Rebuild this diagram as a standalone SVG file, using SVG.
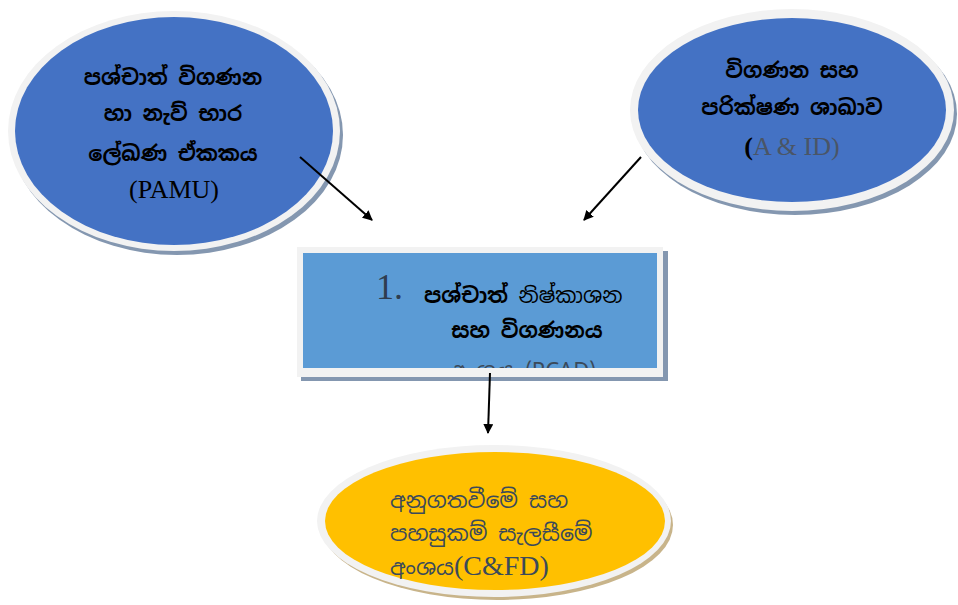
<svg xmlns="http://www.w3.org/2000/svg" width="958" height="605" viewBox="0 0 958 605">
<style>
.si{font-family:"Noto Sans Sinhala","Noto Sans","Liberation Sans",sans-serif;font-size:21px;fill:#000;font-weight:bold;text-anchor:middle}
.lat{font-family:"Liberation Serif",serif;font-size:26px}
.ring{fill:#f2f2f2}
.blue{fill:#4472c4}
.conn{stroke:#000;stroke-width:2;fill:none;marker-end:url(#ah)}
</style>
<defs>
<marker id="ah" markerWidth="10" markerHeight="10" refX="9" refY="5" orient="auto" markerUnits="userSpaceOnUse" viewBox="0 0 10 10">
<path d="M0,0 L10,5 L0,10 z" fill="#000"/>
</marker>
<clipPath id="rc"><rect x="303" y="253" width="354" height="115"/></clipPath>
</defs>
<rect width="958" height="605" fill="#fff"/>
<g id="pamu">
<ellipse cx="177" cy="135" rx="166" ry="120" fill="#8497b0"/>
<ellipse class="ring" cx="174" cy="131" rx="166" ry="120"/>
<ellipse class="blue" cx="174" cy="131" rx="159" ry="114"/>
<text class="si" x="173" y="85">පශ්චාත් විගණන</text>
<text class="si" x="173" y="121">හා නැව් භාර</text>
<text class="si" x="173" y="161">ලේඛණ ඒකකය</text>
<text class="lat" x="174" y="198" text-anchor="middle" fill="#000">(PAMU)</text>
</g>
<g id="aid">
<ellipse cx="795" cy="114" rx="162" ry="101" fill="#8497b0"/>
<ellipse class="ring" cx="792" cy="110" rx="162" ry="101"/>
<ellipse class="blue" cx="792" cy="110" rx="154" ry="92"/>
<text class="si" x="792" y="78">විගණන සහ</text>
<text class="si" x="792" y="115">පරික්ෂණ ශාඛාව</text>
<text class="lat" x="792" y="155" text-anchor="middle"><tspan fill="#000" font-weight="bold">(</tspan><tspan fill="#4a5566">A &amp; ID)</tspan></text>
</g>
<g id="pcad">
<rect x="301" y="251" width="367" height="130" fill="#8497b0"/>
<rect x="297" y="247" width="366" height="130" fill="#f2f2f2"/>
<rect x="303" y="253" width="354" height="115" fill="#5b9bd5"/>
<text x="376" y="299" font-family="Liberation Serif,serif" font-size="36" fill="#2f3d4f">1.</text>
<text class="si" x="424" y="303" style="text-anchor:start">පශ්චාත් <tspan font-weight="normal">නිෂ්කාශන</tspan></text>
<text class="si" x="527" y="338">සහ විගණනය</text>
<g clip-path="url(#rc)"><text x="450" y="378" font-family="Noto Sans Sinhala,Liberation Serif,serif" font-size="22" fill="#3b4a5a">අංශය (PCAD)</text></g>
</g>
<g id="cfd">
<ellipse cx="497" cy="525" rx="176" ry="75" fill="#c8b48a"/>
<ellipse class="ring" cx="494" cy="521" rx="177" ry="76"/>
<ellipse cx="495" cy="521" rx="170" ry="69" fill="#ffc000"/>
<g font-family="Noto Sans Sinhala,Noto Sans,Liberation Sans,sans-serif" font-size="22" fill="#3b4a5a">
<text x="390" y="508">අනුගතවීමේ සහ</text>
<text x="390" y="541">පහසුකම් සැලසීමේ</text>
<text x="390" y="575">අංශය<tspan font-family="Liberation Serif,serif" font-size="28">(C&amp;FD)</tspan></text>
</g>
</g>
<g id="connectors">
<line class="conn" x1="300" y1="157" x2="372" y2="220"/>
<line class="conn" x1="641" y1="157" x2="584" y2="220"/>
<line class="conn" x1="490" y1="373" x2="488" y2="433"/>
</g>
</svg>
